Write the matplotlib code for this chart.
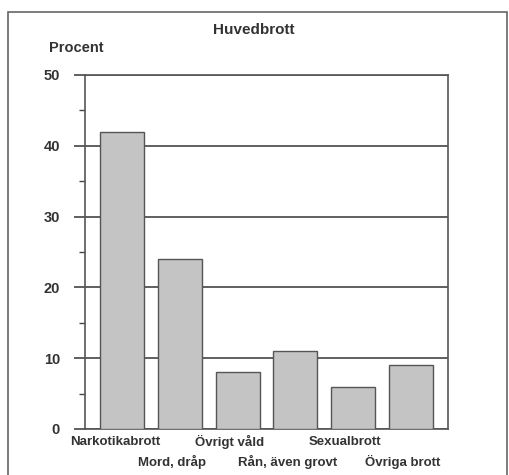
import matplotlib.pyplot as plt
import matplotlib.patches as patches
import numpy as np

plt.rcParams['font.family'] = ['Liberation Sans', 'DejaVu Sans']

categories = ['Narkotikabrott', 'Mord, dråp', 'Övrigt våld',
              'Rån, även grovt', 'Sexualbrott', 'Övriga brott']
values = [42, 24, 8, 11, 6, 9]
yticks = [0, 10, 20, 30, 40, 50]

txt = '#333333'
W, H = 510, 475

fig = plt.figure(figsize=(5.1, 4.75), dpi=100, facecolor='white')
ax = fig.add_axes([85 / W, 1 - 429 / H, (448 - 85) / W, (429 - 75) / H])

x = np.arange(len(categories))
ax.bar(x, values, width=0.765, color='#c4c4c4', edgecolor='#555555', lw=1.0, zorder=3)

ax.set_xlim(-0.65, len(categories) - 0.35)
ax.set_ylim(0, 50)
ax.set_yticks(yticks)
ax.set_yticks(np.arange(5, 50, 10), minor=True)
ax.set_yticklabels([str(v) for v in yticks], fontsize=10.5, fontweight='bold', color=txt)
ax.tick_params(axis='y', which='major', direction='out', length=8, width=1.2,
               color='#444444', pad=10)
ax.tick_params(axis='y', which='minor', direction='out', length=4, width=1.0, color='#444444')
ax.set_xticks([])
ax.yaxis.grid(True, which='major', color='#444444', lw=1.2, zorder=0)
for s in ax.spines.values():
    s.set_color('#555555')
    s.set_linewidth(1.2)

# staggered category labels, centred a little left of each bar
for i, c in enumerate(categories):
    ypix = 442 if i % 2 == 0 else 462
    fig.text((x[i] * 57.5 + 122.5 - 7.5) / W, 1 - ypix / H, c,
             ha='center', va='center', fontsize=9.5, fontweight='bold', color=txt)

fig.text(254 / W, 1 - 30 / H, 'Huvedbrott', ha='center', va='center',
         fontsize=11, fontweight='bold', color=txt)
fig.text(49 / W, 1 - 48 / H, 'Procent', ha='left', va='center',
         fontsize=10.5, fontweight='bold', color=txt)

# outer frame
fig.patches.append(patches.Rectangle((8 / W, -0.01), (507 - 8) / W, 1 - 12 / H + 0.01,
                                     transform=fig.transFigure, fill=False,
                                     edgecolor='#666666', lw=1.2))

fig.savefig('out.png', dpi=100)
